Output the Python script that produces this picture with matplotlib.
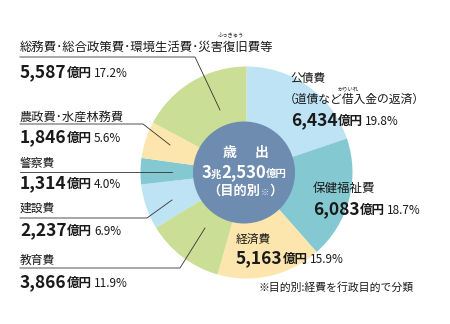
import matplotlib
matplotlib.use("Agg")
import matplotlib.pyplot as plt
from matplotlib.patches import Circle

plt.rcParams['font.family'] = ['Noto Sans CJK JP', 'DejaVu Sans']

# ---- data ----
categories = ["公債費", "保健福祉費", "経済費", "教育費", "建設費", "警察費",
              "農政費・水産林務費", "総務費・総合政策費・環境生活費・災害復旧費等"]
amounts = ["6,434", "6,083", "5,163", "3,866", "2,237", "1,314", "1,846", "5,587"]
shares = [19.8, 18.7, 15.9, 11.9, 6.9, 4.0, 5.6, 17.2]
total_label = ["3", "兆", "2,530", "億円"]
footnote = "※目的別:経費を行政目的で分類"

c_blue = "#bde3f4"
c_teal = "#84c9d1"
c_yellow = "#fde6ae"
c_green = "#cbde95"
colors = [c_blue, c_teal, c_yellow, c_green, c_blue, c_teal, c_yellow, c_green]
c_center = "#6e8bb0"

W, H = 450, 324
fig = plt.figure(figsize=(W / 100, H / 100), dpi=100)
ax = fig.add_axes([0, 0, 1, 1])

def Y(y):
    return H - y

cx, cy, R = 246.5, 172.5, 106
ax.pie(shares, colors=colors, startangle=90, counterclock=False,
       center=(cx, Y(cy)), radius=R, wedgeprops=dict(linewidth=0))
ax.add_patch(Circle((244, Y(172.5)), 51, facecolor=c_center, edgecolor="none", zorder=3))
ax.set_xlim(0, W)
ax.set_ylim(0, H)
ax.set_aspect("equal")
ax.axis("off")

renderer = fig.canvas.get_renderer()
TXT = "#1a1a1a"

def chain(x, y, parts, color=TXT, ha="left"):
    """parts: list of (text, size, weight, gap_after)"""
    objs = []
    cur = x
    for s, size, weight, gap in parts:
        t = ax.text(cur, Y(y), s, fontsize=size, fontweight=weight, color=color,
                    ha="left", va="baseline", zorder=5)
        bb = t.get_window_extent(renderer)
        cur = bb.x1 + gap
        objs.append(t)
    if ha == "center":
        width = cur - x
        for t in objs:
            t.set_x(t.get_position()[0] - width / 2)
    return objs

def value_line(x, y, amt, pct):
    chain(x, y, [(amt, 12.5, "bold", 0), ("億円", 9, "bold", 2.5), (f"{pct}%", 8.5, "normal", 0)])

def heading(x, y, s, size=8.5):
    ax.text(x, Y(y), s, fontsize=size, color=TXT, ha="left", va="center", zorder=5)

LINE = dict(color="#333333", lw=0.6, zorder=4)

# 総務費 (index 7)
heading(20, 47, categories[7].replace("・", "･"), size=8.9)
ax.text(231, Y(36), "ふっきゅう", fontsize=3.8, color=TXT, ha="center", va="center")
value_line(20, 77, amounts[7], shares[7])
ax.plot([20, 195, 220], [Y(57), Y(57), Y(110)], **LINE)

# 農政費 (index 6)
heading(20, 117, categories[6].replace("・", "･"), size=8.8)
value_line(20, 142, amounts[6], shares[6])
ax.plot([20, 143, 170], [Y(124), Y(124), Y(145)], **LINE)

# 警察費 (index 5)
heading(20, 163, categories[5])
value_line(20, 188, amounts[5], shares[5])
ax.plot([20, 172], [Y(172), Y(172)], **LINE)

# 建設費 (index 4)
heading(20, 208, categories[4])
value_line(20, 235, amounts[4], shares[4])
ax.plot([20, 147, 172], [Y(218), Y(218), Y(200)], **LINE)

# 教育費 (index 3)
heading(20, 260, categories[3])
value_line(20, 287, amounts[3], shares[3])
ax.plot([20, 180, 205], [Y(268), Y(268), Y(228)], **LINE)

# 公債費 (index 0)
heading(290, 78, categories[0])
heading(284, 99, "（道債など借入金の返済）")
ax.text(348, Y(89), "かりいれ", fontsize=3.8, color=TXT, ha="center", va="center")
value_line(291, 125, amounts[0], shares[0])

# 保健福祉費 (index 1)
heading(313, 188, categories[1], size=9)
value_line(313, 214, amounts[1], shares[1])

# 経済費 (index 2)
heading(236, 239, categories[2])
value_line(236, 263, amounts[2], shares[2])

# center text
ax.text(230, Y(153), "歳", fontsize=10, color="white", ha="center", va="center",
        fontweight="bold", zorder=5)
ax.text(262, Y(153), "出", fontsize=10, color="white", ha="center", va="center",
        fontweight="bold", zorder=5)
chain(244, 177.5, [(total_label[0], 12, "bold", 0), (total_label[1], 7.5, "bold", 0),
                   (total_label[2], 12, "bold", 0), (total_label[3], 7.5, "bold", 0)],
      color="white", ha="center")
chain(245, 194.5, [("（目的別", 9.5, "bold", 0), ("※", 6, "bold", 0), ("）", 9.5, "bold", 0)],
      color="white", ha="center")

# footnote
ax.text(258, Y(288), footnote, fontsize=7.8, color=TXT, ha="left", va="center")

fig.savefig("out.png", dpi=100)
